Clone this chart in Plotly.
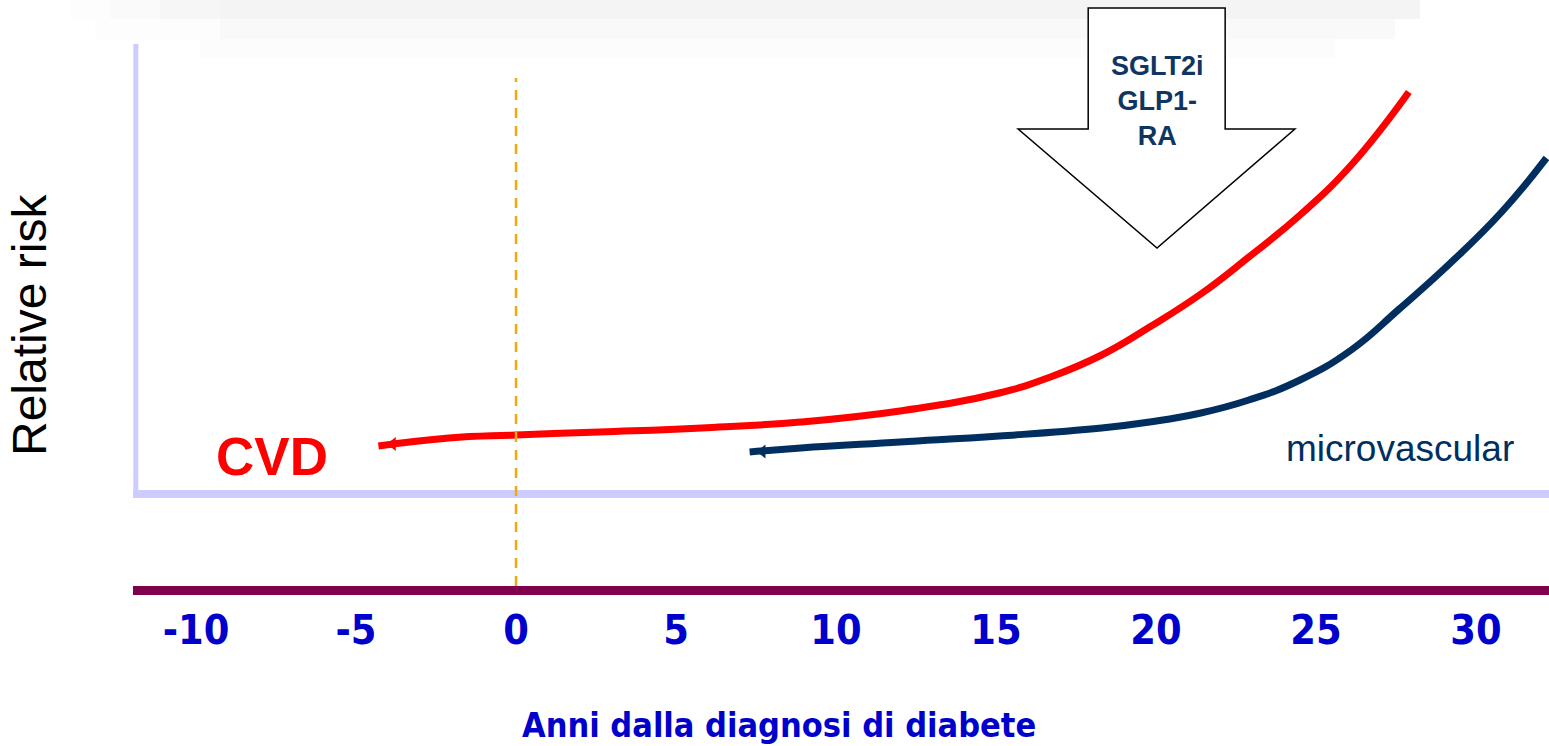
import plotly.graph_objects as go

# Years since diabetes diagnosis and relative risk (arbitrary units)
cvd_years = [-4.3, -2.1, 0, 2.6, 5.8, 8.9, 12.0, 15.1, 16.7, 18.3, 19.8, 21.4, 22.9, 24.5, 26.1, 27.9]
cvd_risk = [0.48, 0.56, 0.59, 0.62, 0.66, 0.72, 0.83, 1.01, 1.17, 1.39, 1.67, 2.00, 2.37, 2.79, 3.29, 4.02]

micro_years = [7.3, 8.9, 12.0, 15.1, 18.3, 19.8, 21.4, 22.9, 24.5, 26.1, 27.6, 29.2, 30.8, 32.2]
micro_risk = [0.42, 0.46, 0.52, 0.58, 0.66, 0.72, 0.81, 0.94, 1.14, 1.44, 1.85, 2.31, 2.82, 3.36]

tick_years = [-10, -5, 0, 5, 10, 15, 20, 25, 30]
tick_labels = ["-10", "-5", "0", "5", "10", "15", "20", "25", "30"]

# Block arrow marking the treatment window (years, risk)
arrow_x = [17.88, 22.16, 22.16, 24.34, 20.03, 15.69, 17.88]
arrow_y = [4.86, 4.86, 3.65, 3.65, 2.46, 3.65, 3.65]

RED = "#FF0000"
NAVY = "#002F5F"
BLUE = "#0000CC"
LAVENDER = "#CCCCFF"

fig = go.Figure()

fig.add_trace(go.Scatter(
    x=cvd_years, y=cvd_risk, mode="lines",
    line=dict(color=RED, width=7, shape="spline", smoothing=1.3),
    hoverinfo="skip", showlegend=False,
))
fig.add_trace(go.Scatter(
    x=micro_years, y=micro_risk, mode="lines",
    line=dict(color=NAVY, width=7, shape="spline", smoothing=1.3),
    hoverinfo="skip", showlegend=False,
))
# small arrow heads at the start of each curve
fig.add_trace(go.Scatter(
    x=[cvd_years[0] + 0.45, micro_years[0] + 0.4],
    y=[cvd_risk[0] + 0.02, micro_risk[0] + 0.005],
    mode="markers",
    marker=dict(symbol="triangle-left", size=12, color=[RED, NAVY]),
    hoverinfo="skip", showlegend=False,
))

shapes = []
W, L, PH = 1549, 133, 586
# faint grey band along the top, fading in from the left
band_rows = [
    (0, 19, "#FDFDFD", 70, 110), (0, 19, "#FAFAFA", 110, 160), (0, 19, "#F6F6F6", 160, 220),
    (0, 19, "#F4F4F4", 220, 1420),
    (19, 39, "#FDFDFD", 95, 220), (19, 39, "#F9F9F9", 220, 1395),
    (39, 58, "#FCFCFC", 200, 1335),
]
for top, bot, col, xs, xe in band_rows:
    shapes.append(dict(type="rect", xref="paper", yref="paper",
                       x0=(xs - L) / (W - L), x1=(xe - L) / (W - L),
                       y0=(PH - bot) / PH, y1=(PH - top) / PH,
                       fillcolor=col, line=dict(width=0), layer="below"))
# vertical axis bar
shapes.append(dict(type="line", xref="paper", yref="y",
                   x0=0.002, x1=0.002, y0=-0.02, y1=4.50,
                   line=dict(color=LAVENDER, width=5)))
# diagnosis marker at year 0
shapes.append(dict(type="line", xref="x", yref="y",
                   x0=0, x1=0, y0=-0.92, y1=4.16,
                   line=dict(color="#F0A80A", width=2.5, dash="10px,8px")))
# block arrow
path = "M " + " L ".join(f"{a},{b}" for a, b in zip(arrow_x, arrow_y)) + " Z"
shapes.append(dict(type="path", xref="x", yref="y", path=path,
                   fillcolor="white", line=dict(color="black", width=1.5)))

annotations = [
    dict(text="SGLT2i<br>GLP1-<br>RA", x=20.03, y=3.93, xref="x", yref="y",
         showarrow=False,
         font=dict(family="Liberation Sans, Arial", size=27, color="#0F3563", weight="bold")),
    dict(text="CVD", x=-7.63, y=0.38, xref="x", yref="y", showarrow=False,
         font=dict(family="Liberation Sans, Arial", size=53, color=RED, weight="bold")),
    dict(text="microvascular", x=27.63, y=0.46, xref="x", yref="y", showarrow=False,
         font=dict(family="Liberation Sans, Arial", size=37, color=NAVY)),
    dict(text="Relative risk", x=(30 - L) / (W - L), y=(PH - 325) / PH,
         xref="paper", yref="paper", xanchor="center", yanchor="middle",
         showarrow=False, textangle=-90,
         font=dict(family="Liberation Sans, Arial", size=48, color="black")),
    dict(text="Anni dalla diagnosi di diabete", x=(779 - L) / (W - L), y=(PH - 725) / PH,
         xref="paper", yref="paper", xanchor="center", yanchor="middle", showarrow=False,
         font=dict(family="DejaVu Sans Condensed, DejaVu Sans", size=34, color=BLUE, weight="bold")),
]

fig.update_layout(
    width=1549, height=746,
    margin=dict(l=133, r=0, t=0, b=160),
    paper_bgcolor="white", plot_bgcolor="white",
    shapes=shapes, annotations=annotations,
    xaxis=dict(
        range=[-11.97, 32.28], showgrid=False, zeroline=False,
        showline=True, linecolor="#80004C", linewidth=9,
        tickmode="array", tickvals=tick_years, ticktext=tick_labels,
        ticks="", ticklabelstandoff=0,
        tickfont=dict(family="DejaVu Sans Condensed, DejaVu Sans", size=41, color=BLUE, weight="bold"),
    ),
    yaxis=dict(
        range=[-0.92, 4.94], showgrid=False, showticklabels=False, ticks="",
        zeroline=True, zerolinecolor=LAVENDER, zerolinewidth=8,
    ),
)

fig.write_html("out.html")
